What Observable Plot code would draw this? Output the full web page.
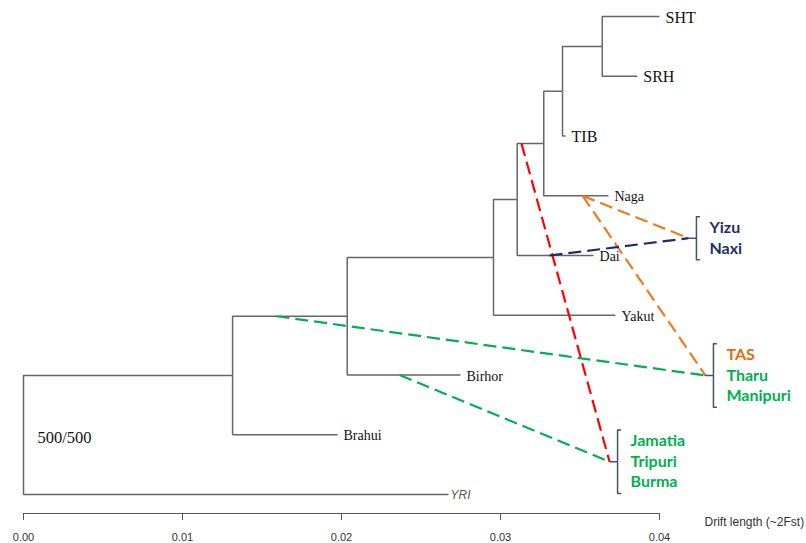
<!DOCTYPE html>
<html><head><meta charset="utf-8">
<script src="https://cdn.jsdelivr.net/npm/d3@7"></script>
<script src="https://cdn.jsdelivr.net/npm/@observablehq/plot@0.6"></script>
<style>body{margin:0;background:#fff}#chart svg{display:block}</style>
</head><body><div id="chart"></div>
<script>
// ---- data ----
// tree nodes: name, parent, drift position of node
const nodeNames   = ["root","A","B","C","D","E","F","G","SHT","SRH","TIB","Naga","Dai","Yakut","Birhor","Brahui","YRI"];
const nodeParents = [null,"root","A","B","C","D","E","F","G","G","F","E","D","C","B","A","root"];
const nodeDrift   = [0,0.01315,0.02036,0.02956,0.03105,0.03272,0.0339,0.0364,0.0400,0.0386,0.03409,0.03679,0.03585,0.03723,0.02748,0.01975,0.02673];
const leafOrder   = ["SHT","SRH","TIB","Naga","Dai","Yakut","Birhor","Brahui","YRI"];

// migration edges: branch (leading to node) where edge starts, drift of start, target group
const migFromNode  = ["E","Naga","Naga","Dai","B","Birhor"];
const migFromDrift = [0.03132,0.03516,0.03516,0.03308,0.01591,0.02365];
const migToGroup   = [2,0,1,0,1,2];
const migColors    = ["#ff0000","#ee7b22","#ee7b22","#1f2e6b","#00b050","#00b050"];

// admixed target groups
const groupAnchorDrift = [0.04182,0.04289,0.03686];
const groupAnchorRow   = [3.71,6.007,7.452];
const groupLabels      = [["Yizu","Naxi"],["TAS","Tharu","Manipuri"],["Jamatia","Tripuri","Burma"]];
const groupLabelColors = [["#1f2e6b","#1f2e6b"],["#e46c0a","#00b050","#00b050"],["#00b050","#00b050","#00b050"]];

const xTicks = [0,0.01,0.02,0.03,0.04];
const axisTitle = "Drift length (~2Fst)";
const bootstrapText = "500/500";

// ---- layout ----
const W = 806, H = 543;
const mLeft = 23, mRight = W - 659, mTop = 16, mBottom = H - 513;
const axisRow = 8.317;
const pxX = (xTicks[4]-xTicks[0])/(W - mLeft - mRight);
const pxY = axisRow/(H - mTop - mBottom);

const nodes = nodeNames.map((name,i)=>({name, parent:nodeParents[i], x:nodeDrift[i], children:[]}));
const byName = new Map(nodes.map(n=>[n.name,n]));
nodes.forEach(n=>{ if(n.parent) byName.get(n.parent).children.push(n); });
function setY(n){ const li = leafOrder.indexOf(n.name); n.y = li>=0 ? li : d3.mean(n.children.map(setY)); return n.y; }
setY(byName.get("root"));
const edges = nodes.filter(n=>n.parent).map(n=>{const p=byName.get(n.parent); return {x1:p.x,y1:p.y,x2:n.x,y2:n.y};});
const leaves = nodes.filter(n=>leafOrder.includes(n.name));
const bigLeaves = leaves.filter(n=>["SHT","SRH","TIB"].includes(n.name));
const smallLeaves = leaves.filter(n=>!["SHT","SRH","TIB","YRI"].includes(n.name));
const yriLeaf = leaves.filter(n=>n.name==="YRI");

const migs = migFromNode.map((nm,i)=>({x1:migFromDrift[i], y1:byName.get(nm).y, x2:groupAnchorDrift[migToGroup[i]], y2:groupAnchorRow[migToGroup[i]], color:migColors[i]}));

const bracketPts = [], labelRows = [];
groupLabels.forEach((labs,g)=>{
  const ax = groupAnchorDrift[g], ay = groupAnchorRow[g], n = labs.length;
  const half = (n*10.25+1)*pxY, bx = ax + 8*pxX, s = 3*pxX;
  [[bx+s,ay-half],[bx,ay-half],[bx,ay],[ax,ay],[bx,ay],[bx,ay+half],[bx+s,ay+half]].forEach(([x,y])=>bracketPts.push({g,x,y}));
  labs.forEach((t,j)=>labelRows.push({x:bx, y: ay + (j-(n-1)/2)*20.5*pxY, text:t, color:groupLabelColors[g][j]}));
});

const root = byName.get("root");
const chart = Plot.plot({
  width: W, height: H,
  marginLeft: mLeft, marginRight: mRight, marginTop: mTop, marginBottom: mBottom,
  x: {domain:[xTicks[0], xTicks[4]]},
  y: {domain:[0, axisRow], reverse:true, axis:null},
  color: {type:"identity"},
  style: {fontFamily:"'Liberation Sans', Arial, sans-serif", background:"#fff", overflow:"visible"},
  marks: [
    Plot.link(edges, {x1:"x1",y1:"y1",x2:"x2",y2:"y2", curve:"step-before", stroke:"#666", strokeWidth:1.5}),
    Plot.link(migs, {x1:"x1",y1:"y1",x2:"x2",y2:"y2", stroke:"color", strokeWidth:2.2, strokeDasharray:"13,6"}),
    Plot.line(bracketPts, {x:"x", y:"y", z:"g", stroke:"#44546a", strokeWidth:1.5, strokeLinejoin:"round"}),
    Plot.text(labelRows, {x:"x", y:"y", text:"text", fill:"color", dx:13, textAnchor:"start", fontFamily:"Lato, 'Open Sans', sans-serif", fontWeight:"bold", fontSize:16}),
    Plot.text(bigLeaves, {x:"x", y:"y", text:"name", dx:6, dy:1, textAnchor:"start", fontFamily:"'Liberation Serif', 'Times New Roman', serif", fontSize:16, fill:"#111"}),
    Plot.text(smallLeaves, {x:"x", y:"y", text:"name", dx:6, dy:1, textAnchor:"start", fontFamily:"'Liberation Serif', 'Times New Roman', serif", fontSize:14, fill:"#111"}),
    Plot.text(yriLeaf, {x:"x", y:"y", text:"name", dx:2, dy:1, textAnchor:"start", fontStyle:"italic", fontSize:12, fill:"#555"}),
    Plot.text([bootstrapText], {x:root.x, y:root.y, text:d=>d, dx:14, dy:3, textAnchor:"start", fontFamily:"'Liberation Serif', 'Times New Roman', serif", fontSize:16.5, fill:"#111"}),
    Plot.ruleY([axisRow], {x1:xTicks[0], x2:xTicks[4], stroke:"#555", strokeWidth:1.2}),
    Plot.axisX({ticks:xTicks, tickFormat:d3.format(".2f"), tickSize:7, tickPadding:13, fontSize:11, label:null, stroke:"#555", fill:"#333"}),
    Plot.text([axisTitle], {x:xTicks[4], y:axisRow, text:d=>d, dx:45, dy:9, textAnchor:"start", fontSize:12, fill:"#333"})
  ]
});
document.getElementById("chart").append(chart);
</script></body></html>
